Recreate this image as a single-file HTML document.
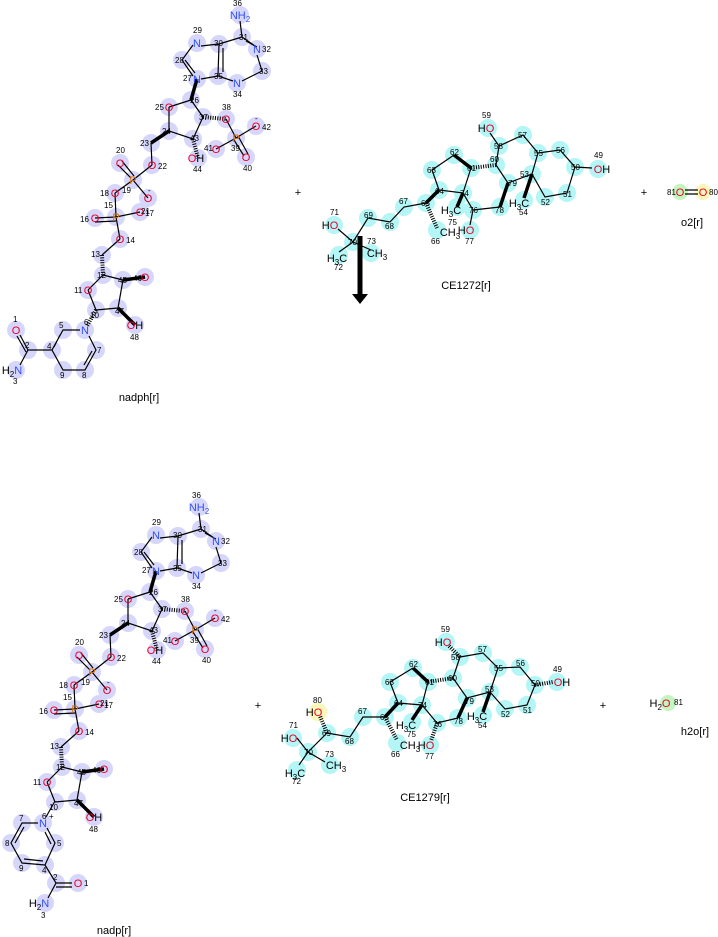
<!DOCTYPE html>
<html><head><meta charset="utf-8"><style>
html,body{margin:0;padding:0;background:#fff;}
svg{display:block;font-family:"Liberation Sans","DejaVu Sans",sans-serif;}
.n{font-size:8px;fill:#000;}
.a{font-size:11px;text-anchor:middle;}
.N{fill:#3050f8;}.O{fill:#e8002a;}.P{fill:#d87000;}.C{fill:#000;}
.lbl{font-size:11px;text-anchor:middle;fill:#000;}
.b{stroke:#000;stroke-width:1.2;fill:none;}
.w{stroke:#000;stroke-width:3.5;fill:none;}
.h{stroke:#000;stroke-width:4;stroke-dasharray:1,1.4;fill:none;}
.lv circle{fill:#d6d6fa;}
.cy circle{fill:#b4f5f5;}
</style></head><body>
<svg width="718" height="937" viewBox="0 0 718 937" xmlns="http://www.w3.org/2000/svg">

<!-- ================= NADPH common part (top) ================= -->
<g id="top">
<g class="lv">
<circle cx="240" cy="15" r="9"/><circle cx="242" cy="37" r="9"/><circle cx="257" cy="49" r="9"/><circle cx="262" cy="71" r="9"/><circle cx="237" cy="83" r="9"/><circle cx="218" cy="76" r="9"/><circle cx="219" cy="44" r="9"/><circle cx="197" cy="43" r="9"/><circle cx="182" cy="60" r="9"/><circle cx="197" cy="79" r="9"/><circle cx="191" cy="100" r="9"/><circle cx="169" cy="107" r="9"/><circle cx="169" cy="131" r="9"/><circle cx="193" cy="139" r="9"/><circle cx="203" cy="117" r="9"/><circle cx="226" cy="119" r="9"/><circle cx="236" cy="138" r="9"/><circle cx="256" cy="126" r="9"/><circle cx="216" cy="149" r="9"/><circle cx="246" cy="157" r="9"/><circle cx="198" cy="158" r="9"/><circle cx="151" cy="143" r="9"/><circle cx="152" cy="165" r="9"/><circle cx="133" cy="180" r="9"/><circle cx="120" cy="163" r="9"/><circle cx="148" cy="198" r="9"/><circle cx="115" cy="193" r="9"/><circle cx="116" cy="217" r="9"/><circle cx="95" cy="218" r="9"/><circle cx="140" cy="212" r="9"/><circle cx="120" cy="239" r="9"/><circle cx="102" cy="255" r="9"/><circle cx="103" cy="275" r="9"/><circle cx="123" cy="280" r="9"/><circle cx="145" cy="277" r="9"/><circle cx="88" cy="290" r="9"/><circle cx="96" cy="310" r="9"/><circle cx="118" cy="308" r="9"/><circle cx="135" cy="325" r="9"/>
</g>
<path class="b" d="M240 21L242 37L255 46M242 37L219 44M257 55L262 71L242 81M233 81L218 76L219 44M223 48L223 72M246 41L257 47M201 46L219 44M193 45L182 60L193 76M185 60L195 73M201 79L218 76M191 100L169 107M169 107L169 131L193 139L203 117L191 100M226 119L236 138M236 138L256 126M236 138L216 149M234 140L244 156M238 136L248 154M151 143L152 165M152 165L133 180M131 178L118 165M134 176L122 161M133 180L148 198M133 180L115 193M115 193L116 217M116 217L95 218M116 221L95 222M116 217L140 212M116 217L120 239M120 239L102 255M103 275L88 290M103 275L123 280M123 280L118 308M118 308L96 310M96 310L88 290"/>
<path class="w" d="M197 79L191 100M169 131L151 143M123 280L145 277M118 308L135 325"/>
<path class="h" d="M203 117L226 119M193 139L198 158M102 255L103 275"/>
<g>
<text class="a N" x="240" y="19">NH<tspan font-size="8" dy="3">2</tspan></text>
<text class="a N" x="257" y="53">N</text><text class="a N" x="237" y="87">N</text><text class="a N" x="197" y="47">N</text><text class="a N" x="197" y="83">N</text>
<text class="a O" x="169" y="111">O</text><text class="a O" x="226" y="123">O</text><text class="a P" x="236" y="142">P</text><text class="a O" x="256" y="130">O</text><text class="a O" x="216" y="153">O</text><text class="a O" x="246" y="161">O</text>
<text class="a O" x="196" y="162">O<tspan class="C">H</tspan></text>
<text class="a O" x="152" y="169">O</text><text class="a P" x="133" y="184">P</text><text class="a O" x="120" y="167">O</text><text class="a O" x="148" y="202">O</text><text class="a O" x="115" y="197">O</text><text class="a P" x="116" y="221">P</text><text class="a O" x="95" y="222">O</text><text class="a O" x="140" y="216">O</text><text class="a O" x="120" y="243">O</text><text class="a O" x="145" y="281">O</text><text class="a O" x="88" y="294">O</text>
<text class="a O" x="135" y="329">O<tspan class="C">H</tspan></text>
<text class="n" x="233" y="6">36</text><text class="n" x="239" y="40">31</text><text class="n" x="262" y="52">32</text><text class="n" x="259" y="74">33</text><text class="n" x="233" y="97">34</text><text class="n" x="214" y="79">35</text><text class="n" x="214" y="46">30</text><text class="n" x="193" y="33">29</text><text class="n" x="175" y="63">28</text><text class="n" x="183" y="81">27</text><text class="n" x="190" y="103">26</text><text class="n" x="155" y="110">25</text><text class="n" x="162" y="134">24</text><text class="n" x="190" y="141">43</text><text class="n" x="199" y="120">37</text><text class="n" x="222" y="110">38</text><text class="n" x="231" y="151">39</text><text class="n" x="262" y="130">42</text><text class="n" x="204" y="151">41</text><text class="n" x="243" y="171">40</text><text class="n" x="193" y="172">44</text><text class="n" x="140" y="146">23</text><text class="n" x="158" y="169">22</text><text class="n" x="116" y="153">20</text><text class="n" x="122" y="193">19</text><text class="n" x="100" y="196">18</text><text class="n" x="104" y="208">15</text><text class="n" x="80" y="222">16</text><text class="n" x="145" y="216">17</text><text class="n" x="141" y="214">21</text><text class="n" x="126" y="243">14</text><text class="n" x="91" y="257">13</text><text class="n" x="97" y="278">12</text><text class="n" x="118" y="283">45</text><text class="n" x="133" y="281">46</text><text class="n" x="74" y="293">11</text><text class="n" x="90" y="318">10</text><text class="n" x="115" y="314">47</text><text class="n" x="130" y="340">48</text>
<text class="n" x="255" y="121">-</text><text class="n" x="148" y="193">-</text>
</g>
</g>
<!-- top pyridine -->
<g class="lv"><circle cx="85" cy="330" r="9"/><circle cx="63" cy="330" r="9"/><circle cx="52" cy="350" r="9"/><circle cx="63" cy="370" r="9"/><circle cx="85" cy="370" r="9"/><circle cx="96" cy="350" r="9"/><circle cx="28" cy="350" r="9"/><circle cx="16" cy="330" r="9"/><circle cx="16" cy="370" r="9"/></g>
<path class="b" d="M80 330L63 330L52 350L63 370L85 370L96 350L89 336M60 335L54 347M84 365L92 351M52 350L28 350L20 335M26 352L17 336M28 350L20 365"/>
<path class="h" d="M96 310L87 326"/>
<text class="a N" x="85" y="334">N</text><text class="a O" x="16" y="334">O</text>
<text class="a N" x="12" y="374"><tspan class="C">H</tspan><tspan class="C" font-size="8" dy="3">2</tspan><tspan dy="-3">N</tspan></text>
<text class="n" x="84" y="325">6</text><text class="n" x="59" y="328">5</text><text class="n" x="47" y="349">4</text><text class="n" x="60" y="378">9</text><text class="n" x="82" y="378">8</text><text class="n" x="97" y="353">7</text><text class="n" x="25" y="348">2</text><text class="n" x="13" y="322">1</text><text class="n" x="13" y="384">3</text>
<text class="lbl" x="139" y="401">nadph[r]</text>

<!-- ================= NADP bottom (copy shifted) ================= -->
<g transform="translate(-41,492)">
<g class="lv">
<circle cx="240" cy="15" r="9"/><circle cx="242" cy="37" r="9"/><circle cx="257" cy="49" r="9"/><circle cx="262" cy="71" r="9"/><circle cx="237" cy="83" r="9"/><circle cx="218" cy="76" r="9"/><circle cx="219" cy="44" r="9"/><circle cx="197" cy="43" r="9"/><circle cx="182" cy="60" r="9"/><circle cx="197" cy="79" r="9"/><circle cx="191" cy="100" r="9"/><circle cx="169" cy="107" r="9"/><circle cx="169" cy="131" r="9"/><circle cx="193" cy="139" r="9"/><circle cx="203" cy="117" r="9"/><circle cx="226" cy="119" r="9"/><circle cx="236" cy="138" r="9"/><circle cx="256" cy="126" r="9"/><circle cx="216" cy="149" r="9"/><circle cx="246" cy="157" r="9"/><circle cx="198" cy="158" r="9"/><circle cx="151" cy="143" r="9"/><circle cx="152" cy="165" r="9"/><circle cx="133" cy="180" r="9"/><circle cx="120" cy="163" r="9"/><circle cx="148" cy="198" r="9"/><circle cx="115" cy="193" r="9"/><circle cx="116" cy="217" r="9"/><circle cx="95" cy="218" r="9"/><circle cx="140" cy="212" r="9"/><circle cx="120" cy="239" r="9"/><circle cx="102" cy="255" r="9"/><circle cx="103" cy="275" r="9"/><circle cx="123" cy="280" r="9"/><circle cx="145" cy="277" r="9"/><circle cx="88" cy="290" r="9"/><circle cx="96" cy="310" r="9"/><circle cx="118" cy="308" r="9"/><circle cx="135" cy="325" r="9"/>
</g>
<path class="b" d="M240 21L242 37L255 46M242 37L219 44M257 55L262 71L242 81M233 81L218 76L219 44M223 48L223 72M246 41L257 47M201 46L219 44M193 45L182 60L193 76M185 60L195 73M201 79L218 76M191 100L169 107M169 107L169 131L193 139L203 117L191 100M226 119L236 138M236 138L256 126M236 138L216 149M234 140L244 156M238 136L248 154M151 143L152 165M152 165L133 180M131 178L118 165M134 176L122 161M133 180L148 198M133 180L115 193M115 193L116 217M116 217L95 218M116 221L95 222M116 217L140 212M116 217L120 239M120 239L102 255M103 275L88 290M103 275L123 280M123 280L118 308M118 308L96 310M96 310L88 290"/>
<path class="w" d="M197 79L191 100M169 131L151 143M123 280L145 277M118 308L135 325"/>
<path class="h" d="M203 117L226 119M193 139L198 158M102 255L103 275"/>
<g>
<text class="a N" x="240" y="19">NH<tspan font-size="8" dy="3">2</tspan></text>
<text class="a N" x="257" y="53">N</text><text class="a N" x="237" y="87">N</text><text class="a N" x="197" y="47">N</text><text class="a N" x="197" y="83">N</text>
<text class="a O" x="169" y="111">O</text><text class="a O" x="226" y="123">O</text><text class="a P" x="236" y="142">P</text><text class="a O" x="256" y="130">O</text><text class="a O" x="216" y="153">O</text><text class="a O" x="246" y="161">O</text>
<text class="a O" x="196" y="162">O<tspan class="C">H</tspan></text>
<text class="a O" x="152" y="169">O</text><text class="a P" x="133" y="184">P</text><text class="a O" x="120" y="167">O</text><text class="a O" x="148" y="202">O</text><text class="a O" x="115" y="197">O</text><text class="a P" x="116" y="221">P</text><text class="a O" x="95" y="222">O</text><text class="a O" x="140" y="216">O</text><text class="a O" x="120" y="243">O</text><text class="a O" x="145" y="281">O</text><text class="a O" x="88" y="294">O</text>
<text class="a O" x="135" y="329">O<tspan class="C">H</tspan></text>
<text class="n" x="233" y="6">36</text><text class="n" x="239" y="40">31</text><text class="n" x="262" y="52">32</text><text class="n" x="259" y="74">33</text><text class="n" x="233" y="97">34</text><text class="n" x="214" y="79">35</text><text class="n" x="214" y="46">30</text><text class="n" x="193" y="33">29</text><text class="n" x="175" y="63">28</text><text class="n" x="183" y="81">27</text><text class="n" x="190" y="103">26</text><text class="n" x="155" y="110">25</text><text class="n" x="162" y="134">24</text><text class="n" x="190" y="141">43</text><text class="n" x="199" y="120">37</text><text class="n" x="222" y="110">38</text><text class="n" x="231" y="151">39</text><text class="n" x="262" y="130">42</text><text class="n" x="204" y="151">41</text><text class="n" x="243" y="171">40</text><text class="n" x="193" y="172">44</text><text class="n" x="140" y="146">23</text><text class="n" x="158" y="169">22</text><text class="n" x="116" y="153">20</text><text class="n" x="122" y="193">19</text><text class="n" x="100" y="196">18</text><text class="n" x="104" y="208">15</text><text class="n" x="80" y="222">16</text><text class="n" x="145" y="216">17</text><text class="n" x="141" y="214">21</text><text class="n" x="126" y="243">14</text><text class="n" x="91" y="257">13</text><text class="n" x="97" y="278">12</text><text class="n" x="118" y="283">45</text><text class="n" x="133" y="281">46</text><text class="n" x="74" y="293">11</text><text class="n" x="90" y="318">10</text><text class="n" x="115" y="314">47</text><text class="n" x="130" y="340">48</text>
<text class="n" x="255" y="121">-</text><text class="n" x="148" y="193">-</text>
</g>
</g>
<!-- bottom pyridine -->
<g class="lv"><circle cx="43" cy="823" r="9"/><circle cx="22" cy="823" r="9"/><circle cx="11" cy="843" r="9"/><circle cx="22" cy="863" r="9"/><circle cx="45" cy="865" r="9"/><circle cx="55" cy="843" r="9"/><circle cx="56" cy="883" r="9"/><circle cx="78" cy="883" r="9"/><circle cx="45" cy="903" r="9"/></g>
<path class="b" d="M38 823L22 823L11 843L22 863L45 865L55 843L47 828M24 827L15 843M24 859L43 861M51 844L45 832M55 801L46 817M45 865L56 883L72 883M56 887L72 887M56 883L48 898"/>
<text class="a N" x="43" y="827">N</text><text class="n" x="49" y="819">+</text>
<text class="a O" x="78" y="887">O</text>
<text class="a N" x="39" y="907"><tspan class="C">H</tspan><tspan class="C" font-size="8" dy="3">2</tspan><tspan dy="-3">N</tspan></text>
<text class="n" x="42" y="819">6</text><text class="n" x="19" y="821">7</text><text class="n" x="5" y="846">8</text><text class="n" x="19" y="871">9</text><text class="n" x="42" y="873">4</text><text class="n" x="57" y="846">5</text><text class="n" x="53" y="880">2</text><text class="n" x="84" y="886">1</text><text class="n" x="41" y="918">3</text>
<text class="lbl" x="114" y="934">nadp[r]</text>

<!-- plus signs -->
<text x="298" y="196" class="lbl" font-size="14">+</text>
<text x="644" y="196" class="lbl" font-size="14">+</text>
<text x="258" y="709" class="lbl" font-size="14">+</text>
<text x="603" y="709" class="lbl" font-size="14">+</text>

<!-- ================= CE1272 ================= -->
<g class="cy">
<circle cx="488" cy="128" r="9"/><circle cx="499" cy="146" r="9"/><circle cx="523" cy="135" r="9"/><circle cx="538" cy="153" r="9"/><circle cx="560" cy="150" r="9"/><circle cx="575" cy="167" r="9"/><circle cx="598" cy="169" r="9"/><circle cx="567" cy="193" r="9"/><circle cx="545" cy="197" r="9"/><circle cx="532" cy="174" r="9"/><circle cx="524" cy="200" r="9"/><circle cx="508" cy="183" r="9"/><circle cx="496" cy="165" r="9"/><circle cx="471" cy="168" r="9"/><circle cx="454" cy="155" r="9"/><circle cx="432" cy="170" r="9"/><circle cx="439" cy="190" r="9"/><circle cx="463" cy="193" r="9"/><circle cx="426" cy="203" r="9"/><circle cx="437" cy="230" r="9"/><circle cx="404" cy="207" r="9"/><circle cx="390" cy="222" r="9"/><circle cx="368" cy="218" r="9"/><circle cx="353" cy="242" r="9"/><circle cx="334" cy="225" r="9"/><circle cx="339" cy="255" r="9"/><circle cx="371" cy="253" r="9"/><circle cx="457" cy="207" r="9"/><circle cx="473" cy="210" r="9"/><circle cx="470" cy="230" r="9"/><circle cx="500" cy="207" r="9"/>
</g>
<path class="b" d="M490 133L499 146L523 135L538 153L560 150L575 167L592 168M575 167L567 193L545 197L532 174L538 153M532 174L508 183L496 165L499 146M496 165M471 168M454 155L432 170L439 190L463 193L471 168M463 193L473 210L470 225M473 210L500 207M439 190M426 203L404 207L390 222L368 218L353 242L338 229M353 242L339 252M353 242L371 250"/>
<path class="w" d="M471 168L454 155M463 193L457 207M500 207L508 183M532 174L524 198M439 190L426 203"/>
<path class="h" d="M496 165L471 168M426 203L437 228"/>
<text class="a O" x="486" y="132"><tspan class="C">H</tspan>O</text>
<text class="a O" x="602" y="173">O<tspan class="C">H</tspan></text>
<text class="a O" x="330" y="229"><tspan class="C">H</tspan>O</text>
<text class="a O" x="466" y="234"><tspan class="C">H</tspan>O</text>
<text class="a C" x="337" y="262">H<tspan font-size="8" dy="3">3</tspan><tspan dy="-3">C</tspan></text>
<text class="a C" x="377" y="257">CH<tspan font-size="8" dy="3">3</tspan></text>
<text class="a C" x="450" y="236">CH<tspan font-size="8" dy="3">3</tspan></text>
<text class="a C" x="451" y="214">H<tspan font-size="8" dy="3">3</tspan><tspan dy="-3">C</tspan></text>
<text class="a C" x="519" y="207">H<tspan font-size="8" dy="3">3</tspan><tspan dy="-3">C</tspan></text>
<g class="n"><text x="482" y="118">59</text><text x="494" y="149">58</text><text x="518" y="138">57</text><text x="534" y="156">55</text><text x="556" y="153">56</text><text x="571" y="170">50</text><text x="594" y="158">49</text><text x="563" y="197">51</text><text x="541" y="205">52</text><text x="520" y="177">53</text><text x="519" y="215">54</text><text x="508" y="186">79</text><text x="490" y="162">60</text><text x="467" y="171">61</text><text x="450" y="155">62</text><text x="427" y="173">63</text><text x="435" y="194">64</text><text x="460" y="196">74</text><text x="421" y="206">65</text><text x="431" y="244">66</text><text x="399" y="204">67</text><text x="385" y="229">68</text><text x="364" y="218">69</text><text x="348" y="245">70</text><text x="330" y="215">71</text><text x="334" y="270">72</text><text x="367" y="244">73</text><text x="448" y="225">75</text><text x="469" y="213">76</text><text x="465" y="244">77</text><text x="495" y="213">78</text></g>
<text class="lbl" x="466" y="289">CE1272[r]</text>

<!-- arrow -->
<rect x="357.5" y="236" width="5" height="60" fill="#000"/>
<polygon points="352,294 368,294 360,304" fill="#000"/>

<!-- O2 -->
<circle cx="680" cy="192" r="8" fill="#c4f5c0"/><circle cx="703" cy="192" r="8" fill="#fbf7b8"/>
<path class="b" d="M685 190L698 190M685 194L698 194"/>
<text class="a O" x="680" y="196">O</text><text class="a O" x="703" y="196">O</text>
<text class="n" x="667" y="195">81</text><text class="n" x="709" y="195">80</text>
<text class="lbl" x="692" y="226">o2[r]</text>

<!-- ================= CE1279 ================= -->
<g class="cy">
<circle cx="446" cy="642" r="9"/><circle cx="460" cy="657" r="9"/><circle cx="483" cy="653" r="9"/><circle cx="498" cy="668" r="9"/><circle cx="520" cy="667" r="9"/><circle cx="535" cy="685" r="9"/><circle cx="557" cy="682" r="9"/><circle cx="527" cy="705" r="9"/><circle cx="505" cy="709" r="9"/><circle cx="490" cy="692" r="9"/><circle cx="483" cy="715" r="9"/><circle cx="467" cy="698" r="9"/><circle cx="453" cy="678" r="9"/><circle cx="428" cy="682" r="9"/><circle cx="413" cy="668" r="9"/><circle cx="390" cy="682" r="9"/><circle cx="398" cy="703" r="9"/><circle cx="422" cy="705" r="9"/><circle cx="385" cy="717" r="9"/><circle cx="397" cy="743" r="9"/><circle cx="363" cy="717" r="9"/><circle cx="350" cy="737" r="9"/><circle cx="327" cy="733" r="9"/><circle cx="308" cy="752" r="9"/><circle cx="293" cy="738" r="9"/><circle cx="297" cy="770" r="9"/><circle cx="330" cy="765" r="9"/><circle cx="412" cy="722" r="9"/><circle cx="437" cy="723" r="9"/><circle cx="430" cy="745" r="9"/><circle cx="458" cy="718" r="9"/>
</g>
<circle cx="318" cy="712" r="9" fill="#fbf7b8"/>
<path class="b" d="M460 657L483 653L498 668L520 667L535 685M535 685L527 705L505 709L490 692L498 668M490 692L467 698L453 678L460 657M413 668L390 682L398 703L422 705L428 682M422 705L437 723L458 718M385 717L363 717L350 737L327 733L308 752L297 738M308 752L299 765M308 752L325 762"/>
<path class="w" d="M428 682L413 668M422 705L412 720M458 718L467 698M490 692L483 712M398 703L385 717"/>
<path class="h" d="M453 678L428 682M385 717L397 740M460 657L448 645M535 685L553 682M437 723L431 741M327 733L320 716"/>
<text class="a O" x="443" y="646"><tspan class="C">H</tspan>O</text>
<text class="a O" x="562" y="686">O<tspan class="C">H</tspan></text>
<text class="a O" x="289" y="742"><tspan class="C">H</tspan>O</text>
<text class="a O" x="314" y="716"><tspan class="C">H</tspan>O</text>
<text class="a O" x="426" y="749"><tspan class="C">H</tspan>O</text>
<text class="a C" x="295" y="777">H<tspan font-size="8" dy="3">3</tspan><tspan dy="-3">C</tspan></text>
<text class="a C" x="336" y="769">CH<tspan font-size="8" dy="3">3</tspan></text>
<text class="a C" x="410" y="749">CH<tspan font-size="8" dy="3">3</tspan></text>
<text class="a C" x="406" y="729">H<tspan font-size="8" dy="3">3</tspan><tspan dy="-3">C</tspan></text>
<text class="a C" x="477" y="720">H<tspan font-size="8" dy="3">3</tspan><tspan dy="-3">C</tspan></text>
<g class="n"><text x="441" y="632">59</text><text x="451" y="660">58</text><text x="478" y="652">57</text><text x="494" y="671">55</text><text x="516" y="666">56</text><text x="531" y="686">50</text><text x="553" y="672">49</text><text x="523" y="713">51</text><text x="501" y="717">52</text><text x="485" y="692">53</text><text x="478" y="728">54</text><text x="465" y="704">79</text><text x="448" y="681">60</text><text x="425" y="685">61</text><text x="409" y="667">62</text><text x="385" y="685">63</text><text x="394" y="706">64</text><text x="418" y="708">74</text><text x="380" y="720">65</text><text x="391" y="757">66</text><text x="358" y="714">67</text><text x="345" y="744">68</text><text x="322" y="736">69</text><text x="304" y="755">70</text><text x="289" y="728">71</text><text x="292" y="784">72</text><text x="325" y="757">73</text><text x="313" y="703">80</text><text x="407" y="737">75</text><text x="433" y="727">76</text><text x="425" y="759">77</text><text x="454" y="724">78</text></g>
<text class="lbl" x="425" y="801">CE1279[r]</text>

<!-- H2O -->
<circle cx="668" cy="703" r="8" fill="#c4f5c0"/>
<text class="a C" x="660" y="707">H<tspan font-size="8" dy="3">2</tspan><tspan class="O" font-size="11" dy="-3">O</tspan></text>
<text class="n" x="674" y="705">81</text>
<text class="lbl" x="695" y="735">h2o[r]</text>
</svg>
</body></html>
